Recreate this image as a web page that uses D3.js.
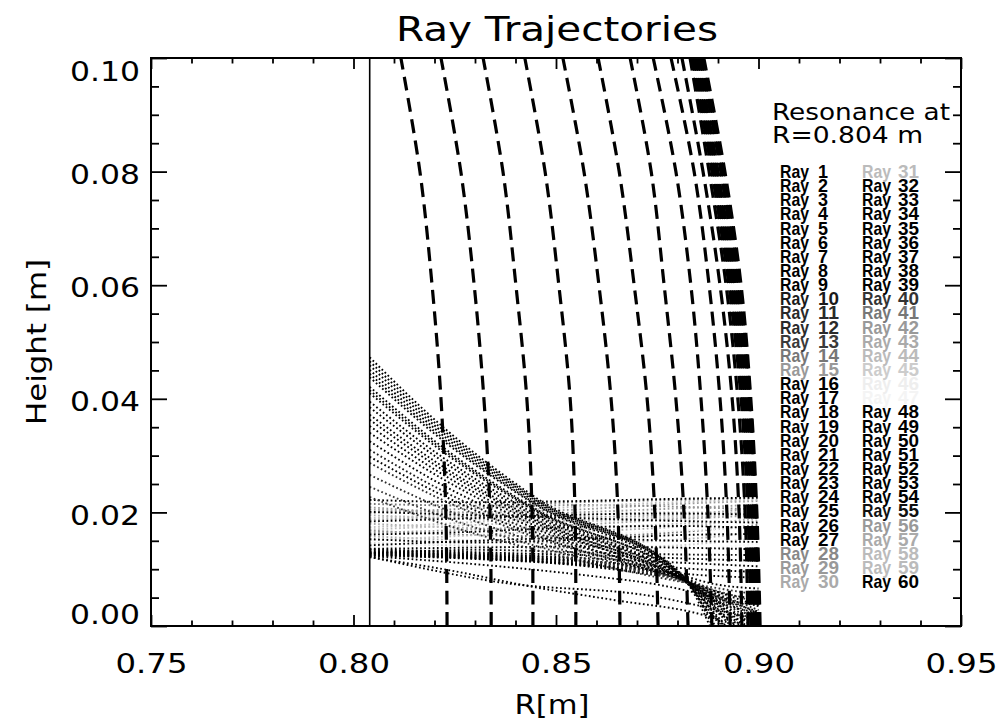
<!DOCTYPE html>
<html>
<head>
<meta charset="utf-8">
<script src="https://cdn.jsdelivr.net/npm/d3@7"></script>
<style>
  body { margin: 0; background: #fff; }
  svg { display: block; }
</style>
</head>
<body>
<svg id="chart" width="1001" height="728"></svg>
<script>
// ---- axis ticks -------------------------------------------------------
const xMajor = [0.75, 0.80, 0.85, 0.90, 0.95];
const xMinor = [0.76, 0.77, 0.78, 0.79, 0.81, 0.82, 0.83, 0.84, 0.86, 0.87, 0.88, 0.89, 0.91, 0.92, 0.93, 0.94];
const yMajor = [0, 0.02, 0.04, 0.06, 0.08, 0.10];
const yMinor = [0.005, 0.010, 0.015, 0.025, 0.030, 0.035, 0.045, 0.050, 0.055, 0.065, 0.070, 0.075, 0.085, 0.090, 0.095];

// ---- resonance position -----------------------------------------------
const resonanceR = 0.804;

// ---- dashed contours: R at each height --------------------------------
const dashHeights = [0, 0.02, 0.04, 0.06, 0.08, 0.10];
const dashR = [
  [0.8231, 0.8228, 0.8216, 0.8194, 0.8164, 0.8117],
  [0.8340, 0.8337, 0.8322, 0.8298, 0.8265, 0.8216],
  [0.8443, 0.8441, 0.8428, 0.8401, 0.8369, 0.8320],
  [0.8549, 0.8547, 0.8535, 0.8507, 0.8473, 0.8423],
  [0.8658, 0.8653, 0.8636, 0.8606, 0.8569, 0.8517],
  [0.8752, 0.8744, 0.8725, 0.8693, 0.8656, 0.8604],
  [0.8826, 0.8816, 0.8796, 0.8767, 0.8735, 0.8683],
  [0.8885, 0.8875, 0.8858, 0.8833, 0.8796, 0.8740],
  [0.8930, 0.8922, 0.8905, 0.8878, 0.8841, 0.8784],
  [0.8959, 0.8952, 0.8935, 0.8905, 0.8863, 0.8811],
  [0.8974, 0.8967, 0.8949, 0.8920, 0.8878, 0.8831],
  [0.8981, 0.8974, 0.8957, 0.8927, 0.8885, 0.8836],
  [0.8986, 0.8979, 0.8962, 0.8932, 0.8890, 0.8841],
  [0.8991, 0.8984, 0.8967, 0.8937, 0.8895, 0.8846],
  [0.8996, 0.8989, 0.8972, 0.8942, 0.8900, 0.8851],
  [0.8999, 0.8991, 0.8977, 0.8947, 0.8907, 0.8856],
  [0.9001, 0.8994, 0.8979, 0.8952, 0.8912, 0.8860],
  [0.9004, 0.8996, 0.8981, 0.8957, 0.8917, 0.8865]
];

// ---- ray grey levels (ray 1 .. ray 60) --------------------------------
const rayShades = [
  "#000", "#000", "#000", "#000", "#000", "#000", "#000", "#000", "#000", "#1a1a1a",
  "#2a2a2a", "#2a2a2a", "#3a3a3a", "#777", "#999", "#000", "#000", "#000", "#000", "#000",
  "#000", "#000", "#000", "#000", "#000", "#000", "#000", "#888", "#999", "#aaa",
  "#bbb", "#000", "#000", "#000", "#000", "#000", "#000", "#000", "#000", "#333",
  "#777", "#999", "#aaa", "#bbb", "#ccc", "#eee", "#f4f4f4", "#000", "#000", "#000",
  "#000", "#000", "#000", "#000", "#111", "#999", "#aaa", "#bbb", "#bbb", "#000"
];

// ---- rays fanning up from the focus to the resonance ------------------
const fanRayIds = [1, 2, 3, 4, 5, 6, 7, 8, 9, 10, 11, 12, 13, 40, 32, 33, 34, 35, 36, 37, 38, 39];
const fanRayPaths = [
  [[0.804, 0.0473], [0.822, 0.0351], [0.845, 0.0226], [0.8815, 0.0084], [0.8880, 0]],
  [[0.804, 0.0459], [0.822, 0.0341], [0.845, 0.0221], [0.8815, 0.0083], [0.8893, 0]],
  [[0.804, 0.0451], [0.822, 0.0336], [0.845, 0.0218], [0.8815, 0.0083], [0.8906, 0]],
  [[0.804, 0.0438], [0.822, 0.0327], [0.845, 0.0213], [0.8815, 0.0082], [0.8919, 0]],
  [[0.804, 0.0421], [0.822, 0.0315], [0.845, 0.0206], [0.8815, 0.0082], [0.8932, 0]],
  [[0.804, 0.0410], [0.822, 0.0307], [0.845, 0.0202], [0.8815, 0.0081], [0.8945, 0]],
  [[0.804, 0.0385], [0.822, 0.0290], [0.845, 0.0193], [0.8815, 0.0081], [0.8958, 0]],
  [[0.804, 0.0363], [0.822, 0.0275], [0.845, 0.0185], [0.8815, 0.0080], [0.8971, 0]],
  [[0.804, 0.0340], [0.822, 0.0259], [0.845, 0.0176], [0.8815, 0.0080], [0.8984, 0]],
  [[0.804, 0.0310], [0.822, 0.0238], [0.845, 0.0165], [0.8815, 0.0079], [0.9, 0.0003]],
  [[0.804, 0.0287], [0.822, 0.0222], [0.845, 0.0156], [0.8815, 0.0079], [0.9, 0.0015]],
  [[0.804, 0.0266], [0.822, 0.0207], [0.845, 0.0148], [0.8815, 0.0078], [0.9, 0.0028]],
  [[0.804, 0.0245], [0.822, 0.0193], [0.845, 0.0141], [0.8815, 0.0078], [0.9, 0.0041]],
  [[0.804, 0.0227], [0.822, 0.0180], [0.845, 0.0134], [0.8815, 0.0077], [0.9, 0.0055]],
  [[0.804, 0.0466], [0.822, 0.0346], [0.845, 0.0223], [0.8820, 0.0084], [0.8886, 0]],
  [[0.804, 0.0444], [0.822, 0.0331], [0.845, 0.0215], [0.8820, 0.0083], [0.8912, 0]],
  [[0.804, 0.0415], [0.822, 0.0311], [0.845, 0.0204], [0.8820, 0.0082], [0.8938, 0]],
  [[0.804, 0.0395], [0.822, 0.0297], [0.845, 0.0197], [0.8820, 0.0081], [0.8964, 0]],
  [[0.804, 0.0372], [0.822, 0.0281], [0.845, 0.0188], [0.8820, 0.0080], [0.8990, 0]],
  [[0.804, 0.0352], [0.822, 0.0267], [0.845, 0.0181], [0.8820, 0.0080], [0.9, 0.0009]],
  [[0.804, 0.0325], [0.822, 0.0248], [0.845, 0.0171], [0.8820, 0.0079], [0.9, 0.0022]],
  [[0.804, 0.0298], [0.822, 0.0230], [0.845, 0.0160], [0.8820, 0.0079], [0.9, 0.0035]]
];

// ---- rays in the near-horizontal band: heights at bandR ---------------
const bandR = [0.804, 0.83, 0.855, 0.88, 0.9];
const bandRayIds = [14, 15, 28, 29, 30, 31, 41, 42, 43, 44, 45, 46, 47, 56, 57, 58, 59,
                    48, 49, 50, 51, 52, 53, 54, 55];
const bandRayHeights = [
  [0.0215, 0.0212, 0.0218, 0.0222, 0.0225],
  [0.0209, 0.0200, 0.0205, 0.0215, 0.0220],
  [0.0199, 0.0207, 0.0213, 0.0210, 0.0205],
  [0.0187, 0.0193, 0.0200, 0.0207, 0.0214],
  [0.0180, 0.0172, 0.0168, 0.0175, 0.0190],
  [0.0174, 0.0183, 0.0195, 0.0200, 0.0198],
  [0.0168, 0.0160, 0.0158, 0.0165, 0.0178],
  [0.0164, 0.0170, 0.0178, 0.0188, 0.0195],
  [0.0158, 0.0150, 0.0146, 0.0152, 0.0165],
  [0.0151, 0.0160, 0.0170, 0.0180, 0.0185],
  [0.0146, 0.0141, 0.0137, 0.0142, 0.0155],
  [0.0139, 0.0148, 0.0158, 0.0168, 0.0172],
  [0.0134, 0.0130, 0.0127, 0.0133, 0.0145],
  [0.0205, 0.0198, 0.0192, 0.0196, 0.0208],
  [0.0195, 0.0188, 0.0185, 0.0190, 0.0200],
  [0.0190, 0.0198, 0.0210, 0.0218, 0.0222],
  [0.0170, 0.0178, 0.0186, 0.0193, 0.0203],
  [0.0222, 0.0218, 0.0220, 0.0224, 0.0226],
  [0.0201, 0.0195, 0.0190, 0.0185, 0.0182],
  [0.0184, 0.0190, 0.0196, 0.0198, 0.0196],
  [0.0161, 0.0166, 0.0174, 0.0176, 0.0172],
  [0.0153, 0.0147, 0.0152, 0.0160, 0.0162],
  [0.0142, 0.0150, 0.0155, 0.0150, 0.0148],
  [0.0136, 0.0138, 0.0140, 0.0138, 0.0135],
  [0.0128, 0.0134, 0.0130, 0.0126, 0.0125]
];

// ---- low rays along the bottom edge of the band -----------------------
const lowRayIds = [16, 17, 18, 19, 20, 21, 22, 23, 24, 25, 26, 27, 60];
const lowRayPaths = [
  [[0.804, 0.0130], [0.83, 0.0124], [0.855, 0.0114], [0.873, 0.0099], [0.8815, 0.0086], [0.889, 0.0062], [0.9, 0.0048]],
  [[0.804, 0.0128], [0.83, 0.0122], [0.855, 0.0112], [0.873, 0.0097], [0.8815, 0.0085], [0.889, 0.0055], [0.9, 0.0036]],
  [[0.804, 0.0127], [0.83, 0.0121], [0.855, 0.0110], [0.873, 0.0095], [0.8815, 0.0084], [0.889, 0.0046], [0.9, 0.0024]],
  [[0.804, 0.0125], [0.83, 0.0119], [0.855, 0.0108], [0.873, 0.0093], [0.8815, 0.0083], [0.888, 0.0035], [0.896, 0.0]],
  [[0.804, 0.0124], [0.83, 0.0118], [0.855, 0.0107], [0.873, 0.0091], [0.8815, 0.0082], [0.887, 0.0030], [0.892, 0.0]],
  [[0.804, 0.0131], [0.83, 0.0126], [0.855, 0.0117], [0.873, 0.0101], [0.8815, 0.0088], [0.889, 0.0074], [0.9, 0.0066]],
  [[0.804, 0.0121], [0.823, 0.0099], [0.845, 0.0068], [0.865, 0.0045], [0.885, 0.0022], [0.895, 0.0]],
  [[0.804, 0.0123], [0.836, 0.0105], [0.86, 0.0087], [0.875, 0.0073], [0.89, 0.0048], [0.9, 0.0025]],
  [[0.804, 0.0122], [0.836, 0.0077], [0.875, 0.0051], [0.89, 0.0028], [0.9, 0.0010]],
  [[0.804, 0.0133], [0.84, 0.0125], [0.87, 0.0115], [0.885, 0.0110], [0.9, 0.0105]],
  [[0.804, 0.0129], [0.84, 0.0121], [0.87, 0.0108], [0.885, 0.0100], [0.9, 0.0095]],
  [[0.804, 0.0126], [0.84, 0.0116], [0.87, 0.0100], [0.885, 0.0090], [0.9, 0.0085]],
  [[0.804, 0.0135], [0.84, 0.0128], [0.87, 0.0122], [0.885, 0.0118], [0.9, 0.0115]]
];

// ---- texts ------------------------------------------------------------
const titleText = "Ray Trajectories";
const xTitle = "R[m]";
const yTitle = "Height [m]";
const noteLines = ["Resonance at", "R=0.804 m"];

// ======================================================================
const svg = d3.select("#chart");
const plot = { left: 151, right: 961, top: 58, bottom: 626 };
const x = d3.scaleLinear().domain([0.75, 0.95]).range([plot.left, plot.right]);
const y = d3.scaleLinear().domain([0, 0.10]).range([plot.bottom, plot.top]);
const labelFont = "'DejaVu Sans', 'Liberation Sans', sans-serif";

svg.append("rect").attr("width", 1001).attr("height", 728).attr("fill", "#fff");

svg.append("defs").append("clipPath").attr("id", "plotClip")
  .append("rect")
  .attr("x", plot.left).attr("y", plot.top)
  .attr("width", plot.right - plot.left).attr("height", plot.bottom - plot.top);

const g = svg.append("g").attr("clip-path", "url(#plotClip)");

// ray trajectories (dotted)
const rayLine = d3.line().x(d => x(d[0])).y(d => y(d[1])).curve(d3.curveMonotoneX);
function drawRay(id, pts) {
  g.append("path")
    .attr("d", rayLine(pts))
    .attr("fill", "none")
    .attr("stroke", rayShades[id - 1])
    .attr("stroke-width", 1.9)
    .attr("stroke-dasharray", "1.7 2.5");
}
bandRayIds.forEach((id, i) => drawRay(id, bandR.map((r, k) => [r, bandRayHeights[i][k]])));
lowRayIds.forEach((id, i) => drawRay(id, lowRayPaths[i]));
fanRayIds.forEach((id, i) => drawRay(id, fanRayPaths[i]));

// dashed contours, drawn from the floor upward
const dashLine = d3.line().x(d => x(d[0])).y(d => y(d[1])).curve(d3.curveCatmullRom.alpha(0.5));
dashR.forEach(row => {
  g.append("path")
    .attr("d", dashLine(row.map((r, k) => [r, dashHeights[k]])))
    .attr("fill", "none")
    .attr("stroke", "#000")
    .attr("stroke-width", 3.2)
    .attr("stroke-dasharray", "14 7.5");
});

// resonance line
svg.append("line")
  .attr("x1", x(resonanceR)).attr("x2", x(resonanceR))
  .attr("y1", y(0.10)).attr("y2", y(0))
  .attr("stroke", "#000").attr("stroke-width", 1.6);

// axes (ticks point inward on all four sides)
function styleAxis(sel) {
  sel.select(".domain").remove();
  sel.selectAll(".tick line").attr("stroke", "#000").attr("stroke-width", 1.8);
}
svg.append("g").attr("transform", `translate(0,${plot.bottom})`)
  .call(d3.axisBottom(x).tickValues(xMinor).tickSize(-5.5).tickFormat("")).call(styleAxis);
svg.append("g").attr("transform", `translate(0,${plot.top})`)
  .call(d3.axisTop(x).tickValues(xMinor).tickSize(-5.5).tickFormat("")).call(styleAxis);
svg.append("g").attr("transform", `translate(0,${plot.top})`)
  .call(d3.axisTop(x).tickValues(xMajor).tickSize(-11).tickFormat("")).call(styleAxis);
svg.append("g").attr("transform", `translate(${plot.left},0)`)
  .call(d3.axisLeft(y).tickValues(yMinor).tickSize(-8).tickFormat("")).call(styleAxis);
svg.append("g").attr("transform", `translate(${plot.right},0)`)
  .call(d3.axisRight(y).tickValues(yMinor).tickSize(-8).tickFormat("")).call(styleAxis);
svg.append("g").attr("transform", `translate(${plot.right},0)`)
  .call(d3.axisRight(y).tickValues(yMajor).tickSize(-16).tickFormat("")).call(styleAxis);

const xAxisG = svg.append("g").attr("transform", `translate(0,${plot.bottom})`)
  .call(d3.axisBottom(x).tickValues(xMajor).tickSize(-11).tickPadding(28).tickFormat(d3.format(".2f")))
  .call(styleAxis);
xAxisG.selectAll("text")
  .attr("font-family", labelFont).attr("font-size", 27).attr("fill", "#000")
  .attr("textLength", 72).attr("lengthAdjust", "spacingAndGlyphs");

const yAxisG = svg.append("g").attr("transform", `translate(${plot.left},0)`)
  .call(d3.axisLeft(y).tickValues(yMajor).tickSize(-16).tickPadding(11).tickFormat(d3.format(".2f")))
  .call(styleAxis);
yAxisG.selectAll("text")
  .attr("font-family", labelFont).attr("font-size", 27).attr("fill", "#000")
  .attr("textLength", 70).attr("lengthAdjust", "spacingAndGlyphs")
  .attr("y", d => d === 0 ? -11 : (d === 0.10 ? 14 : 3));

// frame
svg.append("rect")
  .attr("x", plot.left).attr("y", plot.top)
  .attr("width", plot.right - plot.left).attr("height", plot.bottom - plot.top)
  .attr("fill", "none").attr("stroke", "#000").attr("stroke-width", 2);

// titles
svg.append("text").text(titleText)
  .attr("x", 557).attr("y", 41).attr("text-anchor", "middle")
  .attr("font-family", labelFont).attr("font-size", 34)
  .attr("textLength", 322).attr("lengthAdjust", "spacingAndGlyphs");
svg.append("text").text(xTitle)
  .attr("x", 552).attr("y", 714).attr("text-anchor", "middle")
  .attr("font-family", labelFont).attr("font-size", 27)
  .attr("textLength", 75).attr("lengthAdjust", "spacingAndGlyphs");
svg.append("text").text(yTitle)
  .attr("transform", "translate(46,342) rotate(-90)").attr("text-anchor", "middle")
  .attr("font-family", labelFont).attr("font-size", 27)
  .attr("textLength", 166).attr("lengthAdjust", "spacingAndGlyphs");

// resonance note
svg.append("text").text(noteLines[0])
  .attr("x", 772).attr("y", 120)
  .attr("font-family", labelFont).attr("font-size", 23)
  .attr("textLength", 178).attr("lengthAdjust", "spacingAndGlyphs");
svg.append("text").text(noteLines[1])
  .attr("x", 772).attr("y", 143)
  .attr("font-family", labelFont).attr("font-size", 23)
  .attr("textLength", 151).attr("lengthAdjust", "spacingAndGlyphs");

// ray legend: two columns of thirty, tightly stacked
const legendFont = "'Liberation Sans', Arial, sans-serif";
const rayNumbers = d3.range(1, 61);
const leg = svg.append("g");
rayNumbers.forEach(n => {
  const col = n <= 30 ? 0 : 1;
  const row = (n - 1) % 30;
  const by = 178 + row * 14.14;
  const x0 = col === 0 ? 780 : 862;
  const xn = col === 0 ? 818 : 898;
  const fill = rayShades[n - 1];
  leg.append("text").text("Ray")
    .attr("x", x0).attr("y", by)
    .attr("font-family", legendFont).attr("font-weight", "bold").attr("font-size", 18.5)
    .attr("textLength", 29).attr("lengthAdjust", "spacingAndGlyphs")
    .attr("fill", fill);
  leg.append("text").text(String(n))
    .attr("x", xn).attr("y", by)
    .attr("font-family", legendFont).attr("font-weight", "bold").attr("font-size", 18.5)
    .attr("textLength", n < 10 ? 10 : 21).attr("lengthAdjust", "spacingAndGlyphs")
    .attr("fill", fill);
});
</script>
</body>
</html>
